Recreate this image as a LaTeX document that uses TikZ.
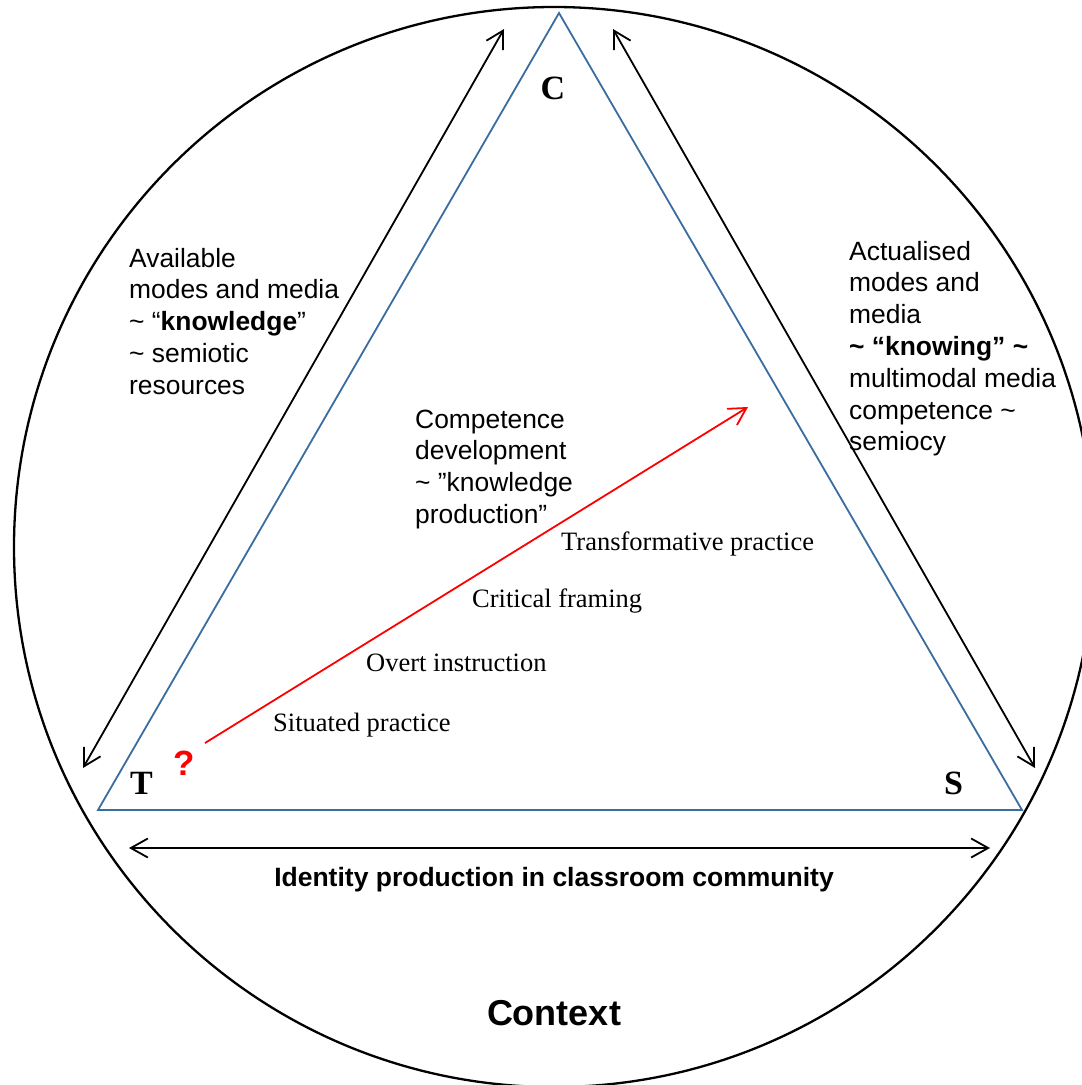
\documentclass[tikz,border=0pt]{standalone}
\usepackage{fontspec}
\setmainfont{Liberation Serif}
\setsansfont{Liberation Sans}
\usetikzlibrary{arrows.meta}
\definecolor{triblue}{RGB}{58,108,160}
\definecolor{pured}{RGB}{255,0,0}
\begin{document}
\begin{tikzpicture}[x=1pt,y=-1pt,
  tri/.style={draw=triblue,line width=1.8pt,line join=miter},
  barb/.tip={Straight Barb[length=17pt,width=19pt]},
  dbl/.style={line width=1.8pt,barb-barb},
  redarrow/.style={draw=pured,line width=1.8pt,-barb},
  sanstext/.style={font=\sffamily\fontsize{26.4}{31.8}\selectfont,inner sep=0pt,anchor=base west},
  practice/.style={font=\rmfamily\fontsize{26.5}{31}\selectfont,inner sep=0pt,anchor=base west},
  corner/.style={font=\rmfamily\bfseries\fontsize{34}{40}\selectfont,inner sep=0pt},
]
\useasboundingbox (0,0) rectangle (1082,1085);
% context circle
\draw[line width=2.3pt] (554,547) circle[radius=540];
% triangle corners
\coordinate (apex) at (559,13);
\coordinate (bl) at (98,810);
\coordinate (br) at (1022,810);
\draw[tri] (apex) -- (br) -- (bl) -- cycle;
% arrow end points
\coordinate (la1) at (83,768);
\coordinate (la2) at (504,29);
\coordinate (ra1) at (613,29);
\coordinate (ra2) at (1035,768);
\coordinate (ha1) at (129,848);
\coordinate (ha2) at (990,848);
\coordinate (rs) at (205,743);
\coordinate (re) at (748,407);
\draw[dbl] (la1) -- (la2);
\draw[dbl] (ra1) -- (ra2);
\draw[dbl] (ha1) -- (ha2);
\draw[redarrow] (rs) -- (re);
% corner labels
\node[corner,anchor=base] (C) at (553,99) {C};
\node[corner,anchor=base west] (T) at (130,794) {T};
\node[corner,anchor=base west] (S) at (944,794) {S};
\node[font=\sffamily\bfseries\fontsize{35}{40}\selectfont,text=pured,inner sep=0pt,anchor=base west] (q) at (173,775) {?};
% side texts
\node[sanstext] (avail) at (129,267) {\begin{tabular}[t]{@{}l@{}}Available\\ modes and media\\ \textasciitilde{} “\textbf{knowledge}”\\ \textasciitilde{} semiotic\\ resources\end{tabular}};
\node[sanstext] (actual) at (849,260) {\begin{tabular}[t]{@{}l@{}}Actualised\\ modes and\\ media\\ \textbf{\textasciitilde{} “knowing” \textasciitilde{}}\\ multimodal media\\ competence \textasciitilde{}\\ semiocy\end{tabular}};
\node[sanstext] (comp) at (415,428) {\begin{tabular}[t]{@{}l@{}}Competence\\ development\\ \textasciitilde{} ”knowledge\\ production”\end{tabular}};
% practices
\node[practice] (tp) at (561,550) {Transformative practice};
\node[practice] (cf) at (472,607) {Critical framing};
\node[practice] (oi) at (366,671) {Overt instruction};
\node[practice] (sp) at (273,731) {Situated practice};
% bottom texts
\node[font=\sffamily\bfseries\fontsize{26.5}{32}\selectfont,inner sep=0pt,anchor=base] (ident) at (554,886) {Identity production in classroom community};
\node[font=\sffamily\bfseries\fontsize{36}{42}\selectfont,inner sep=0pt,anchor=base] (ctx) at (554,1025) {Context};
\end{tikzpicture}
\end{document}
